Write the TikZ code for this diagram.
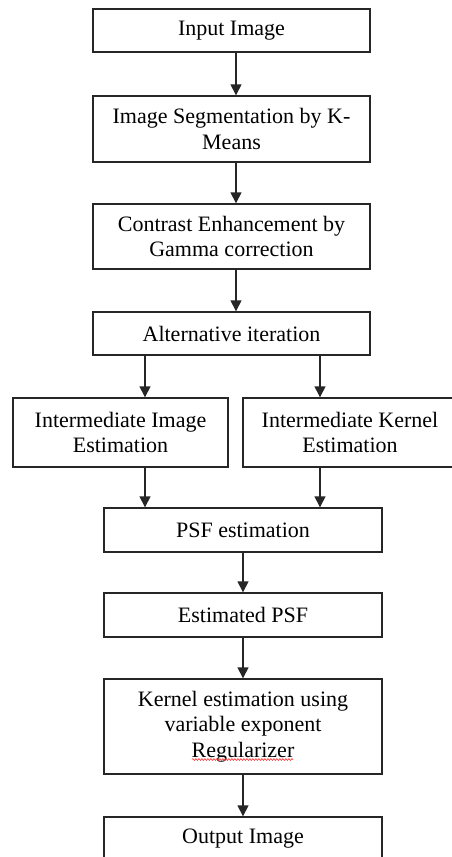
\documentclass[tikz,border=0pt]{standalone}
\usepackage{fontspec}
\setmainfont{Liberation Serif}
\usetikzlibrary{arrows.meta,decorations.pathmorphing,calc}
\begin{document}
\begin{tikzpicture}[x=1pt,y=-1pt,
  box/.style={draw=black!85, line width=1.4pt, inner sep=0pt, align=center,
    font=\fontsize{22}{25.5}\selectfont, text=black},
  arr/.style={line width=1.4pt, draw=black!85, -{Triangle[length=11pt,width=11pt]}}]
\useasboundingbox (0,0) rectangle (452,857);
\fill[white] (0,0) rectangle (452,857);
% boxes
\node[box, minimum width=277pt, minimum height=43pt] (in) at (231.5,30.5) {Input Image};
\node[box, minimum width=277pt, minimum height=66pt] (seg) at (231.5,129) {Image Segmentation by K-\\Means};
\node[box, minimum width=277pt, minimum height=65pt] (con) at (231.5,236.5) {Contrast Enhancement by\\Gamma correction};
\node[box, minimum width=277pt, minimum height=43pt] (alt) at (231.5,333.5) {Alternative iteration};
\node[box, minimum width=215pt, minimum height=69pt] (left) at (120.5,432.5) {Intermediate Image\\Estimation};
\node[box, minimum width=214pt, minimum height=69pt] (right) at (350,432.5) {Intermediate Kernel\\Estimation};
\node[box, minimum width=278pt, minimum height=44pt] (psf) at (243,530) {PSF estimation};
\node[box, minimum width=278pt, minimum height=44pt] (est) at (243,615) {Estimated PSF};
\node[box, minimum width=278pt, minimum height=95pt] (ker) at (243,726.5) {Kernel estimation using\\variable exponent\\Regularizer};
\node[box, minimum width=278pt, minimum height=44pt] (out) at (243,839) {Output Image};
% spell-check squiggle
\draw[red!80, line width=0.6pt, decoration={snake, amplitude=0.9pt, segment length=3pt}, decorate]
  ($(ker.center)+(-51,33)$) -- ($(ker.center)+(50,33)$);
% arrow columns
\coordinate (ax) at (236,0);
\coordinate (bx) at (243,0);
\coordinate (lx) at (145,0);
\coordinate (rx) at (320,0);
% connectors
\draw[arr] (in.south -| ax) -- (seg.north -| ax);
\draw[arr] (seg.south -| ax) -- (con.north -| ax);
\draw[arr] (con.south -| ax) -- (alt.north -| ax);
\draw[arr] (alt.south -| lx) -- (left.north -| lx);
\draw[arr] (alt.south -| rx) -- (right.north -| rx);
\draw[arr] (left.south -| lx) -- (psf.north -| lx);
\draw[arr] (right.south -| rx) -- (psf.north -| rx);
\draw[arr] (psf.south -| bx) -- (est.north -| bx);
\draw[arr] (est.south -| bx) -- (ker.north -| bx);
\draw[arr] (ker.south -| bx) -- (out.north -| bx);
\end{tikzpicture}
\end{document}
